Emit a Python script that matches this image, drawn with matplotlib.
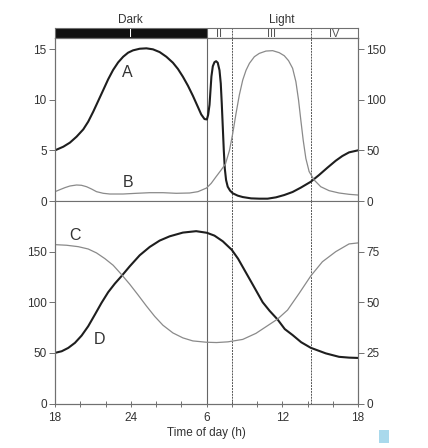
import matplotlib
matplotlib.use("Agg")
import matplotlib.pyplot as plt
from matplotlib.patches import Rectangle

plt.rcParams['font.family'] = ['Liberation Sans', 'DejaVu Sans']
plt.rcParams['font.size'] = 8.5

# time axis: hours after 18:00
hours_ticks = [0, 6, 12, 18, 24]
hours_labels = ['18', '24', '6', '12', '18']
phase_edges = [12, 14, 20.25]
phase_names = ['I', 'II', 'III', 'IV']

# curve A (left axis, 0-15)
a_h = [0, 0.66, 1.18, 1.71, 2.24, 2.63, 3.03, 3.42, 3.82, 4.21, 4.6, 5.0, 5.4, 5.79,
       6.18, 6.71, 7.24, 7.76, 8.29, 8.82, 9.34, 9.74, 10.13, 10.53, 10.92, 11.32,
       11.58, 11.84, 12.03, 12.13, 12.24, 12.32, 12.39, 12.5, 12.63, 12.76, 12.89,
       13.03, 13.13, 13.21, 13.29, 13.37, 13.45, 13.55, 13.68, 13.87, 14.08, 14.47,
       14.87, 15.53, 16.18, 16.84, 17.5, 18.16, 18.82, 19.47, 20.26, 20.92, 21.58,
       22.24, 22.76, 23.29, 24]
a_v = [5.0, 5.36, 5.76, 6.35, 7.07, 7.83, 8.82, 9.87, 10.95, 12.01, 12.93, 13.68,
       14.24, 14.64, 14.87, 15.03, 15.07, 14.97, 14.7, 14.24, 13.65, 13.03, 12.27,
       11.38, 10.39, 9.28, 8.55, 8.09, 8.05, 8.5, 9.5, 11.0, 12.3, 13.3, 13.7, 13.8,
       13.65, 12.9, 11.6, 9.6, 7.3, 5.0, 3.2, 2.07, 1.41, 1.02, 0.76, 0.53, 0.39,
       0.26, 0.23, 0.23, 0.36, 0.59, 0.89, 1.32, 1.9, 2.57, 3.29, 3.98, 4.44, 4.8,
       5.0]

# curve B (right axis, 0-150)
b_h = [0, 0.39, 0.79, 1.18, 1.71, 2.1, 2.5, 2.9, 3.29, 3.82, 4.34, 5.39, 6.45, 7.5,
       8.55, 9.6, 10.66, 11.32, 12.0, 12.37, 12.76, 13.16, 13.5, 13.82, 14.08, 14.34,
       14.6, 14.87, 15.13, 15.4, 15.79, 16.18, 16.71, 17.24, 17.76, 18.16, 18.5,
       18.82, 19.08, 19.29, 19.47, 19.66, 19.87, 20.13, 20.53, 21.05, 21.71, 22.5,
       23.29, 24]
b_v = [9.2, 11.2, 13.2, 14.8, 15.8, 15.5, 14.1, 11.8, 9.2, 7.6, 6.9, 6.9, 7.6, 8.2,
       8.2, 7.6, 7.9, 9.2, 12.8, 17.4, 24, 30.6, 36.5, 50, 66.8, 86.5, 104.6, 119.4,
       129, 135.9, 142.4, 145.7, 148, 148.4, 146.4, 143.4, 138.5, 131, 117.8, 99.7,
       80, 60, 42, 29, 20.7, 14.1, 10.2, 7.9, 6.6, 5.9]

# curve C (right axis, 0-75)
c_h = [0, 0.92, 1.84, 2.63, 3.29, 3.95, 4.61, 5.26, 5.92, 6.58, 7.24, 7.9, 8.55,
       9.34, 10.13, 10.92, 12.0, 12.8, 13.7, 14.87, 15.92, 16.71, 17.63, 18.42,
       19.34, 20.26, 21.18, 22.24, 23.29, 24]
c_v = [78.45, 78.15, 77.45, 76.3, 74.35, 71.55, 68.25, 63.75, 58.9, 53.6, 48.15, 43,
       38.65, 34.85, 32.4, 30.9, 30.25, 30.1, 30.45, 31.65, 34.65, 37.9, 41.7, 46.15,
       54.4, 63, 70, 75, 78.8, 79.3]

# curve D (left axis, 0-150)
d_h = [0, 0.53, 1.05, 1.58, 2.11, 2.63, 3.16, 3.68, 4.21, 4.74, 5.26, 5.92, 6.71,
       7.5, 8.29, 9.08, 10.13, 11.18, 12.03, 12.63, 13.29, 14.0, 14.5, 15.0, 15.66,
       16.45, 17.0, 17.63, 18.2, 18.82, 19.5, 20.26, 21.45, 22.5, 23.3, 24]
d_v = [50, 51.6, 54.9, 59.9, 67.1, 76.3, 87.8, 99.3, 109.9, 118.4, 125.7, 135.5,
       146.4, 154.6, 160.9, 165.1, 168.8, 170.2, 168.6, 165.8, 160.2, 151.8, 143,
       132, 117.5, 100, 91.5, 83, 73.5, 67.6, 60.5, 55, 49.5, 46.1, 45.3, 45]

W, H = 428, 448
fig = plt.figure(figsize=(W / 100, H / 100), dpi=100)

def box(x0, y0, x1, y1):
    # pixel box (from top-left) -> figure fraction rect
    return [x0 / W, 1 - y1 / H, (x1 - x0) / W, (y1 - y0) / H]

frame = '#707070'
txt = '#333333'
thick = '#1e1e1e'
thin = '#8a8a8a'

ax_bar = fig.add_axes(box(55, 27.7, 358, 38.5))
ax_top = fig.add_axes(box(55, 38.5, 358, 201))
ax_bot = fig.add_axes(box(55, 201, 358, 403.5))
ax_top2 = ax_top.twinx()
ax_bot2 = ax_bot.twinx()

for ax in [ax_bar, ax_top, ax_bot, ax_top2, ax_bot2]:
    ax.set_xlim(0, 24)
    for s in ax.spines.values():
        s.set_color(frame)
        s.set_linewidth(0.8)
    ax.tick_params(colors=frame, labelcolor=txt, labelsize=8.5, length=4, width=0.7, pad=2)

# light/dark bar
ax_bar.set_ylim(0, 1)
ax_bar.set_xticks([])
ax_bar.set_yticks([])
ax_bar.add_patch(Rectangle((0, 0), phase_edges[0], 1, color='#111111', lw=0))
bounds = [0] + phase_edges + [24]
for i, lab in enumerate(phase_names):
    mid = (bounds[i] + bounds[i + 1]) / 2
    ax_bar.text(mid, 0.45, lab, color='white' if i == 0 else '#555555',
                ha='center', va='center', fontsize=8)
ax_bar.text(6, 1.45, 'Dark', color=txt, ha='center', va='baseline')
ax_bar.text(18, 1.45, 'Light', color=txt, ha='center', va='baseline')

# phase lines
for ax in [ax_bar, ax_top, ax_bot]:
    ax.axvline(phase_edges[0], color='#666666', lw=0.8)
    for x in phase_edges[1:]:
        ax.axvline(x, color='#555555', lw=0.7, ls=(0, (2, 1)))

# top panel
ax_top.plot(a_h, a_v, color=thick, lw=1.5, solid_joinstyle='round')
ax_top2.plot(b_h, b_v, color=thin, lw=0.9, solid_joinstyle='round')
ax_top.set_ylim(0, 16.04)
ax_top2.set_ylim(0, 160.4)
ax_top.set_yticks([0, 5, 10, 15])
ax_top2.set_yticks([0, 50, 100, 150])
ax_top.set_xticks([])
ax_top.text(5.7, 12.7, 'A', fontsize=11.5, color=txt, ha='center', va='center')
ax_top.text(5.8, 1.8, 'B', fontsize=11.5, color=txt, ha='center', va='center')

# bottom panel
ax_bot.plot(d_h, d_v, color=thick, lw=1.5, solid_joinstyle='round')
ax_bot2.plot(c_h, c_v, color=thin, lw=0.9, solid_joinstyle='round')
ax_bot.set_ylim(0, 200)
ax_bot2.set_ylim(0, 100)
ax_bot.set_yticks([0, 50, 100, 150])
ax_bot2.set_yticks([0, 25, 50, 75])
ax_bot.spines['top'].set_visible(False)
ax_bot2.spines['top'].set_visible(False)
ax_bot.set_xticks(range(0, 25, 2))
ax_bot.set_xticklabels([hours_labels[hours_ticks.index(t)] if t in hours_ticks else ''
                        for t in range(0, 25, 2)])
ax_bot.tick_params(axis='x', direction='inout', length=4.8, pad=4)
ax_bot.set_xlabel('Time of day (h)', color=txt, labelpad=2)
ax_bot.text(1.6, 166, 'C', fontsize=11.5, color=txt, ha='center', va='center')
ax_bot.text(3.55, 63, 'D', fontsize=11.5, color=txt, ha='center', va='center')

# small blue mark in the corner of the scan
fig.patches.append(Rectangle((379 / W, 1 - 443 / H), 9.5 / W, 13 / H,
                             transform=fig.transFigure, color='#a9d9ec', lw=0))

fig.savefig('out.png', dpi=100)
